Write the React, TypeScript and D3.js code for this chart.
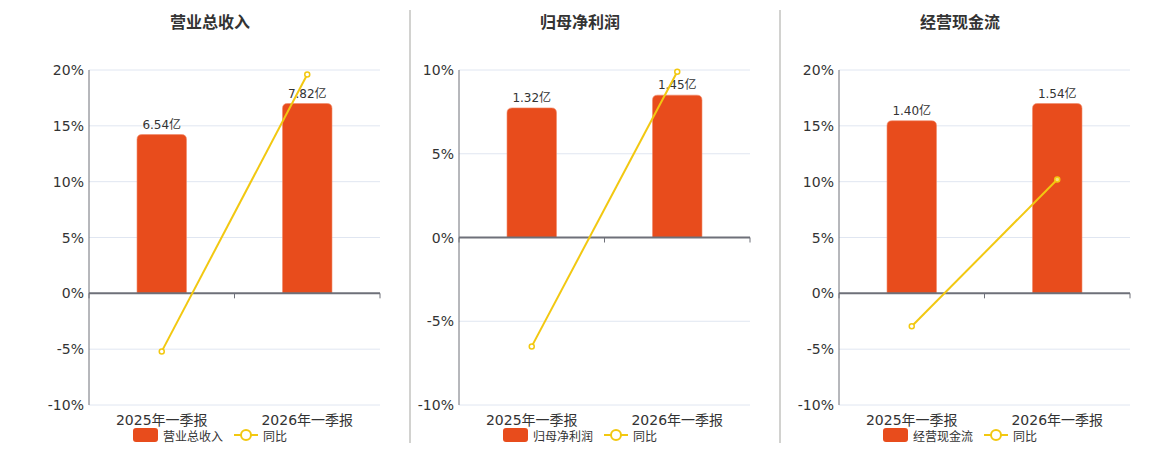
import React from "react";
import * as d3 from "d3";

const categories = ["2025年一季报", "2026年一季报"];

const titles = ["营业总收入", "归母净利润", "经营现金流"];
const barValues = [
  [6.54, 7.82],
  [1.32, 1.45],
  [1.4, 1.54],
];
const yoyValues = [
  [-5.2, 19.6],
  [-6.5, 9.9],
  [-2.95, 10.2],
];
const yTicks = [
  [-10, -5, 0, 5, 10, 15, 20],
  [-10, -5, 0, 5, 10],
  [-10, -5, 0, 5, 10, 15, 20],
];

const BAR = "#e84c1c";
const LINE = "#f2c811";
const FONT = "Verdana, 'DejaVu Sans', 'Noto Sans CJK SC', sans-serif";

const layout = [
  { left: 89, right: 380, center: 210 },
  { left: 459, right: 750, center: 580 },
  { left: 839, right: 1130, center: 960 },
];

function Panel({ idx }: { idx: number }) {
  const { left, right, center } = layout[idx];
  const top = 70;
  const bottom = 405;
  const ticks = yTicks[idx];

  const y = d3
    .scaleLinear()
    .domain([ticks[0], ticks[ticks.length - 1]])
    .range([bottom, top]);
  const x = d3.scaleBand().domain(categories).range([left, right]);

  const bars = barValues[idx];
  // hidden axis for the bars, zero aligned with the % axis
  const yb = d3
    .scaleLinear()
    .domain([0, d3.max(bars)! / 0.85])
    .range([y(0), top]);
  const bw = x.bandwidth() * 0.34;

  const line = d3
    .line<number>()
    .x((_, i) => x(categories[i])! + x.bandwidth() / 2)
    .y((d) => y(d));

  const topRound = (x0: number, y0: number, w: number, h: number, r: number) =>
    `M${x0},${y0 + h}V${y0 + r}Q${x0},${y0} ${x0 + r},${y0}H${x0 + w - r}Q${x0 + w},${y0} ${x0 + w},${y0 + r}V${y0 + h}Z`;

  const lx = center - 77;

  return (
    <g>
      <text
        x={center}
        y={28}
        textAnchor="middle"
        fontSize={16}
        fontWeight="bold"
        fill="#333"
        fontFamily="'Noto Sans CJK SC', sans-serif"
      >
        {titles[idx]}
      </text>
      {ticks.map((t) =>
        t === 0 ? null : (
          <line key={t} x1={left} x2={right} y1={y(t)} y2={y(t)} stroke="#e0e6f1" />
        )
      )}
      {ticks.map((t) => (
        <text
          key={"l" + t}
          x={left - 5}
          y={y(t)}
          dy="0.36em"
          textAnchor="end"
          fontSize={14}
          fill="#333"
          fontFamily={FONT}
        >
          {t}%
        </text>
      ))}
      <line x1={left} x2={left} y1={top} y2={bottom} stroke="#6e7079" />
      {bars.map((v, i) => {
        const cx = x(categories[i])! + x.bandwidth() / 2;
        const yt = yb(v);
        return (
          <g key={i}>
            <path
              d={topRound(cx - bw / 2, yt, bw, y(0) - yt, 5)}
              fill={BAR}
              stroke="#f08a6a"
              strokeWidth={0.6}
            />
            <text
              x={cx}
              y={yt - 6}
              textAnchor="middle"
              fontSize={12}
              fill="#333"
              fontFamily={FONT}
            >
              {v.toFixed(2)}亿
            </text>
          </g>
        );
      })}
      <line x1={left} x2={right} y1={y(0)} y2={y(0)} stroke="#6e7079" strokeWidth={2} />
      {[left, left + x.bandwidth(), right].map((tx, i) => (
        <line key={i} x1={tx} x2={tx} y1={y(0)} y2={y(0) + 5} stroke="#6e7079" />
      ))}
      {categories.map((c) => (
        <text
          key={c}
          x={x(c)! + x.bandwidth() / 2}
          y={425}
          textAnchor="middle"
          fontSize={14}
          fill="#333"
          fontFamily={FONT}
        >
          {c}
        </text>
      ))}
      <path d={line(yoyValues[idx])!} fill="none" stroke={LINE} strokeWidth={2} />
      {yoyValues[idx].map((v, i) => (
        <circle
          key={i}
          cx={x(categories[i])! + x.bandwidth() / 2}
          cy={y(v)}
          r={2.5}
          fill={idx === 2 && i === 1 ? "#f7e27a" : "#fff"}
          stroke={LINE}
          strokeWidth={1.5}
        />
      ))}
      <rect x={lx} y={428} width={25} height={14} rx={3} fill={BAR} />
      <text x={lx + 30} y={441} fontSize={12} fill="#333" fontFamily={FONT}>
        {titles[idx]}
      </text>
      <line x1={lx + 101} x2={lx + 125} y1={435} y2={435} stroke={LINE} strokeWidth={2} />
      <circle cx={lx + 113} cy={435} r={5} fill="#fff" stroke={LINE} strokeWidth={2} />
      <text x={lx + 130} y={441} fontSize={12} fill="#333" fontFamily={FONT}>
        同比
      </text>
    </g>
  );
}

export default function App() {
  return (
    <div style={{ position: "absolute", left: 0, top: 0 }}>
      <svg width={1160} height={450} style={{ display: "block", background: "#fff" }}>
        <line x1={410} x2={410} y1={10} y2={443} stroke="#a5a5a0" />
        <line x1={780} x2={780} y1={10} y2={443} stroke="#a5a5a0" />
        {titles.map((_, i) => (
          <Panel key={i} idx={i} />
        ))}
      </svg>
    </div>
  );
}
